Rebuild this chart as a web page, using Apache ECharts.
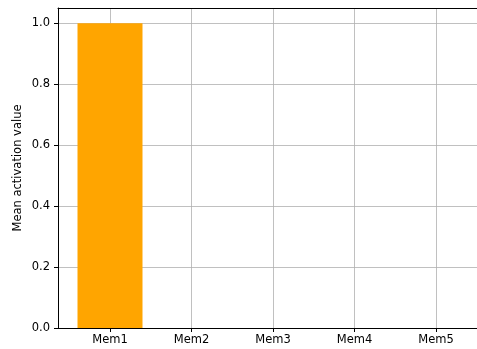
<!DOCTYPE html>
<html><head><meta charset="utf-8">
<script src="https://cdn.jsdelivr.net/npm/echarts@6/dist/echarts.min.js"></script>
<style>html,body{margin:0;padding:0;background:#fff}#c{width:477px;height:349px}</style>
</head><body><div id="c"></div>
<script>
const categories = ['Mem1', 'Mem2', 'Mem3', 'Mem4', 'Mem5'];
const values = [1.0, 0, 0, 0, 0];
const yTicks = [0, 0.2, 0.4, 0.6, 0.8, 1.0];
const yLabel = 'Mean activation value';

const chart = echarts.init(document.getElementById('c'), null, {renderer: 'canvas'});
const font = 'DejaVu Sans';
const catIdx = categories.map((_, i) => i);
chart.setOption({
  animation: false,
  backgroundColor: '#fff',
  grid: {left: 58, right: 0, top: 8, bottom: 21, show: false},
  xAxis: [{
    type: 'value', min: -0.638, max: 4.503,
    axisLine: {show: true, onZero: false, lineStyle: {color: '#000', width: 1}},
    axisTick: {show: true, length: 4, customValues: catIdx, lineStyle: {color: '#000'}},
    axisLabel: {customValues: catIdx, formatter: v => categories[Math.round(v)] || '', color: '#000', fontFamily: font, fontSize: 11.5, margin: 6},
    splitLine: {show: true, lineStyle: {color: '#b0b0b0', width: 0.8}}
  }, {
    type: 'value', position: 'top', min: -0.638, max: 4.503,
    axisLine: {show: true, onZero: false, lineStyle: {color: '#000', width: 1}},
    axisTick: {show: false}, axisLabel: {show: false}, splitLine: {show: false}
  }],
  yAxis: {
    type: 'value', min: 0, max: 1.05,
    name: yLabel, nameLocation: 'middle', nameGap: 34, nameRotate: 90, nameMoveOverlap: false,
    nameTextStyle: {color: '#000', fontFamily: font, fontSize: 11.5},
    axisLine: {show: true, onZero: false, lineStyle: {color: '#000', width: 1}},
    axisTick: {show: true, length: 4, customValues: yTicks, lineStyle: {color: '#000'}},
    axisLabel: {customValues: yTicks, formatter: v => v.toFixed(1), color: '#000', fontFamily: font, fontSize: 11.5, margin: 8},
    splitLine: {show: true, lineStyle: {color: '#b0b0b0', width: 0.8}}
  },
  series: [{
    type: 'bar',
    xAxisIndex: 0,
    data: values.map((v, i) => [i, v]),
    barWidth: 65,
    itemStyle: {color: '#FFA500'},
    z: 1
  }]
});
</script></body></html>
